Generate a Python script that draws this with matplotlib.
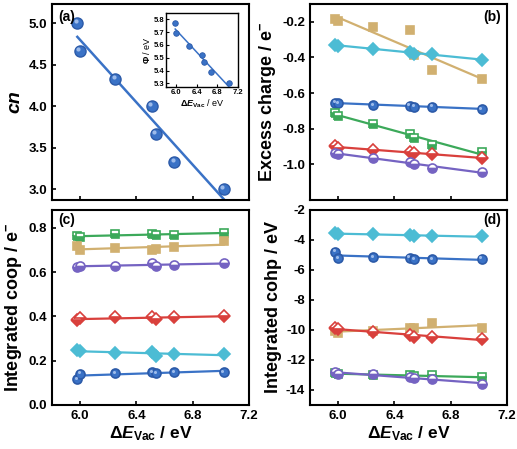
import numpy as np
import matplotlib
matplotlib.use('Agg')
import matplotlib.pyplot as plt
from matplotlib.transforms import offset_copy

plt.rcParams['font.family'] = ['Liberation Sans', 'DejaVu Sans']
plt.rcParams['font.weight'] = 'bold'
plt.rcParams['mathtext.fontset'] = 'custom'
plt.rcParams['mathtext.rm'] = 'Liberation Sans:bold'
plt.rcParams['mathtext.bf'] = 'Liberation Sans:bold'
plt.rcParams['mathtext.it'] = 'Liberation Sans:italic:bold'

# delta E_vac of the seven systems
dE = [5.98, 6.00, 6.25, 6.51, 6.54, 6.67, 7.02]

# (a) coordination number and work function (inset)
cn = [5.00, 4.67, 4.33, 4.00, 3.67, 3.33, 3.00]
phi = [5.77, 5.69, 5.59, 5.52, 5.47, 5.39, 5.30]

# (b) excess charge
q_blue = [-0.654, -0.657, -0.667, -0.670, -0.676, -0.676, -0.689]
q_cyan = [-0.330, -0.333, -0.352, -0.370, -0.380, -0.380, -0.413]
q_tan = [-0.185, -0.198, -0.228, -0.246, -0.385, -0.469, -0.519]
q_green = [-0.713, -0.728, -0.772, -0.828, -0.852, -0.889, -0.931]
q_red = [-0.898, -0.907, -0.917, -0.931, -0.939, -0.944, -0.963]
q_purple = [-0.935, -0.941, -0.967, -0.985, -1.000, -1.019, -1.043]

# (c) integrated coop
coop_blue = [0.117, 0.141, 0.144, 0.149, 0.144, 0.148, 0.149]
coop_cyan = [0.248, 0.245, 0.233, 0.237, 0.220, 0.231, 0.231]
coop_tan = [0.716, 0.701, 0.707, 0.700, 0.704, 0.712, 0.738]
coop_green = [0.762, 0.757, 0.773, 0.773, 0.765, 0.768, 0.777]
coop_red = [0.382, 0.391, 0.395, 0.397, 0.389, 0.397, 0.400]
coop_purple = [0.625, 0.628, 0.628, 0.639, 0.628, 0.631, 0.640]

# (d) integrated cohp
cohp_blue = [-4.77, -5.21, -5.15, -5.19, -5.26, -5.26, -5.24]
cohp_cyan = [-3.56, -3.60, -3.60, -3.65, -3.71, -3.76, -3.76]
cohp_tan = [-10.10, -10.17, -10.06, -9.89, -9.89, -9.56, -9.84]
cohp_green = [-12.86, -12.93, -13.02, -13.02, -13.08, -13.02, -13.15]
cohp_red = [-9.89, -9.93, -10.11, -10.33, -10.44, -10.44, -10.59]
cohp_purple = [-12.80, -12.93, -12.93, -13.15, -13.20, -13.30, -13.59]

blue = '#3a72c6'
cyan = '#4cbcd4'
tan = '#d1b070'
green = '#3ca95a'
red = '#d9403c'
purple = '#7563c2'

styles = {
    'blue': dict(color=blue, marker='o', ms=6.5, mec='#2c5aa8'),
    'cyan': dict(color=cyan, marker='D', ms=6.5, mec=cyan),
    'tan': dict(color=tan, marker='s', ms=6, mec=tan),
    'green': dict(color=green, marker='s', ms=6, fillstyle='bottom', mfcalt='white', mec=green),
    'red': dict(color=red, marker='D', ms=6.5, fillstyle='bottom', mfcalt='white', mec=red),
    'purple': dict(color=purple, marker='o', ms=6.5, fillstyle='bottom', mfcalt='white', mec=purple),
}


def fitline(ax, x, y, color, lw=1.6):
    k, b = np.polyfit(x, y, 1)
    xs = np.array([min(x), max(x)])
    ax.plot(xs, k * xs + b, color=color, lw=lw, zorder=2)


def shine(ax, x, y, size, d=1.0):
    # small highlight so the blue balls look shaded
    tr = offset_copy(ax.transData, fig=ax.figure, x=-d, y=d, units='points')
    ax.plot(x, y, ls='none', marker='o', ms=size, color='#a9c4ef', mec='none',
            alpha=0.9, transform=tr, zorder=4)


def draw(ax, series):
    for name, y in series:
        st = styles[name]
        fitline(ax, dE, y, st['color'])
        ax.plot(dE, y, ls='none', mew=1.2, zorder=3, **st)
        if name == 'blue':
            shine(ax, dE, y, 2.2)


def style_ax(ax, labels=True):
    for s in ax.spines.values():
        s.set_linewidth(1.5)
    ax.tick_params(direction='in', width=1.2, length=3, labelsize=9.5)
    ax.set_xlim(5.8, 7.2)
    ax.set_xticks([6.0, 6.4, 6.8, 7.2])
    if not labels:
        ax.tick_params(labelbottom=False)
    else:
        ax.set_xlabel(r'$\Delta\mathit{E}_{\mathrm{Vac}}$ / eV', fontsize=12.5,
                      fontweight='bold', labelpad=2)


fig = plt.figure(figsize=(5.17, 4.49), dpi=100)
ax_a = fig.add_axes([0.1006, 0.5546, 0.381, 0.4365])
ax_b = fig.add_axes([0.5996, 0.5546, 0.381, 0.4365])
ax_c = fig.add_axes([0.1006, 0.098, 0.381, 0.4343])
ax_d = fig.add_axes([0.5996, 0.098, 0.381, 0.4343])

# (a)
fitline(ax_a, dE, cn, blue, lw=1.8)
ax_a.plot(dE, cn, ls='none', marker='o', ms=8, color=blue, mec='#2c5aa8', mew=1, zorder=3)
shine(ax_a, dE, cn, 3, d=1.3)
style_ax(ax_a, labels=False)
ax_a.set_ylim(2.87, 5.23)
ax_a.set_yticks([3.0, 3.5, 4.0, 4.5, 5.0])
ax_a.set_yticklabels(['3.0', '3.5', '4.0', '4.5', '5.0'])
ax_a.set_ylabel('cn', fontsize=14, fontstyle='italic', fontweight='bold', labelpad=4)
ax_a.text(0.03, 0.97, '(a)', transform=ax_a.transAxes, ha='left', va='top', fontsize=10, fontweight='bold')

ins = fig.add_axes([0.321, 0.806, 0.139, 0.165])
fitline(ins, dE, phi, blue, lw=1.1)
ins.plot(dE, phi, ls='none', marker='o', ms=4, color=blue, mec='#2c5aa8', mew=0.6, zorder=3)
for s in ins.spines.values():
    s.set_linewidth(1.0)
ins.tick_params(direction='in', width=0.8, length=2, labelsize=5.5, pad=1.5)
ins.set_xlim(5.8, 7.2)
ins.set_xticks([6.0, 6.4, 6.8, 7.2])
ins.set_ylim(5.27, 5.85)
ins.set_yticks([5.3, 5.4, 5.5, 5.6, 5.7, 5.8])
ins.set_xlabel(r'$\Delta\mathit{E}_{\mathrm{Vac}}$ / eV', fontsize=6.5, labelpad=1)
ins.set_ylabel(r'$\Phi$ / eV', fontsize=6.5, labelpad=1)

# (b)
draw(ax_b, [('tan', q_tan), ('cyan', q_cyan), ('blue', q_blue),
            ('green', q_green), ('red', q_red), ('purple', q_purple)])
style_ax(ax_b, labels=False)
ax_b.set_ylim(-1.2, -0.1)
ax_b.set_yticks([-1.0, -0.8, -0.6, -0.4, -0.2])
ax_b.set_yticklabels(['-1.0', '-0.8', '-0.6', '-0.4', '-0.2'])
ax_b.set_ylabel(r'Excess charge / e$^{-}$', fontsize=13, fontweight='bold', labelpad=3)
ax_b.text(0.97, 0.97, '(b)', transform=ax_b.transAxes, ha='right', va='top', fontsize=10, fontweight='bold')

# (c)
draw(ax_c, [('green', coop_green), ('tan', coop_tan), ('purple', coop_purple),
            ('red', coop_red), ('cyan', coop_cyan), ('blue', coop_blue)])
style_ax(ax_c)
ax_c.set_ylim(0.0, 0.88)
ax_c.set_yticks([0.0, 0.2, 0.4, 0.6, 0.8])
ax_c.set_ylabel(r'Integrated coop / e$^{-}$', fontsize=13, fontweight='bold', labelpad=3)
ax_c.text(0.03, 0.985, '(c)', transform=ax_c.transAxes, ha='left', va='top', fontsize=10, fontweight='bold')

# (d)
draw(ax_d, [('cyan', cohp_cyan), ('blue', cohp_blue), ('tan', cohp_tan),
            ('red', cohp_red), ('green', cohp_green), ('purple', cohp_purple)])
style_ax(ax_d)
ax_d.set_ylim(-15, -2)
ax_d.set_yticks([-14, -12, -10, -8, -6, -4, -2])
ax_d.set_yticklabels(['-14', '-12', '-10', '-8', '-6', '-4', '-2'])
ax_d.set_ylabel('Integrated cohp / eV', fontsize=13, fontweight='bold', labelpad=3)
ax_d.text(0.97, 0.985, '(d)', transform=ax_d.transAxes, ha='right', va='top', fontsize=10, fontweight='bold')

fig.savefig('out.png', dpi=100)
